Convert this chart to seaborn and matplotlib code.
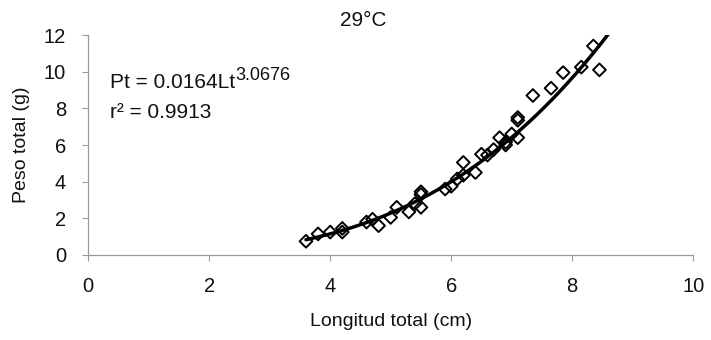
import numpy as np
import pandas as pd
import matplotlib
matplotlib.use("Agg")
import matplotlib.pyplot as plt
import seaborn as sns

# Data
longitud = [3.6, 3.8, 4.0, 4.2, 4.2, 4.6, 4.7, 4.8, 5.0, 5.1, 5.3, 5.4, 5.5, 5.5, 5.5,
            5.9, 6.0, 6.1, 6.2, 6.2, 6.4, 6.5, 6.6, 6.7, 6.8, 6.9, 6.9, 7.0, 7.1, 7.1,
            7.1, 7.35, 7.65, 7.85, 8.15, 8.35, 8.45]
peso = [0.75, 1.15, 1.25, 1.45, 1.25, 1.8, 1.95, 1.6, 2.05, 2.6, 2.35, 2.8, 3.45, 3.3, 2.6,
        3.6, 3.75, 4.15, 5.05, 4.35, 4.5, 5.5, 5.45, 5.75, 6.4, 6.15, 6.0, 6.6, 7.35, 7.5,
        6.4, 8.7, 9.1, 9.95, 10.25, 11.4, 10.1]
coef_a = 0.0164
coef_b = 3.0676
r2 = 0.9913
fit_range = [3.6, 8.6]
x_ticks = [0, 2, 4, 6, 8, 10]
y_ticks = [0, 2, 4, 6, 8, 10, 12]

sns.set_theme(style="white")
plt.rcParams['font.family'] = ['Liberation Sans', 'DejaVu Sans']

df = pd.DataFrame({"Longitud": longitud, "Peso": peso})
xf = np.linspace(fit_range[0], fit_range[1], 200)
fit = pd.DataFrame({"Longitud": xf, "Peso": coef_a * xf ** coef_b})

fig = plt.figure(figsize=(7.11, 3.4), dpi=100)
ax = fig.add_axes([0.124, 0.25, 0.851, 0.647])

sns.scatterplot(data=df, x="Longitud", y="Peso", marker="D", s=42,
                facecolor="none", edgecolor="black", linewidth=1.4, ax=ax, zorder=3)
sns.lineplot(data=fit, x="Longitud", y="Peso", color="black", linewidth=2.5, ax=ax, zorder=4)

ax.set_xlim(0, 10)
ax.set_ylim(0, 12)
ax.set_xticks(x_ticks)
ax.set_yticks(y_ticks)
ax.tick_params(axis="both", labelsize=14.5, colors="#999999", labelcolor="#111111",
               length=4, width=0.8, direction="out", bottom=True, left=True)
ax.tick_params(axis="x", pad=12)
ax.tick_params(axis="y", pad=12)
for s in ["top", "right"]:
    ax.spines[s].set_visible(False)
for s in ["left", "bottom"]:
    ax.spines[s].set_color("#999999")
    ax.spines[s].set_linewidth(0.9)

ax.set_xlabel("Longitud total (cm)", fontsize=14, labelpad=12, color="#111111")
ax.set_ylabel("Peso total (g)", fontsize=14, labelpad=10, color="#111111")

base = ax.text(0.36, 9.1, f"Pt = {coef_a:.4f}Lt", fontsize=15, ha="left", va="baseline",
               color="#111111")
ax.annotate(f"{coef_b:.4f}", xy=(1.0, 0.45), xycoords=base, fontsize=13,
            ha="left", va="bottom", color="#111111")
ax.text(0.36, 7.5, f"r² = {r2:.4f}", fontsize=15, ha="left", va="baseline", color="#111111")
fig.text(363 / 711, 1 - 21 / 340, "29°C", fontsize=15, ha="center", va="center",
         color="#111111")

fig.savefig("out.png", dpi=100)
